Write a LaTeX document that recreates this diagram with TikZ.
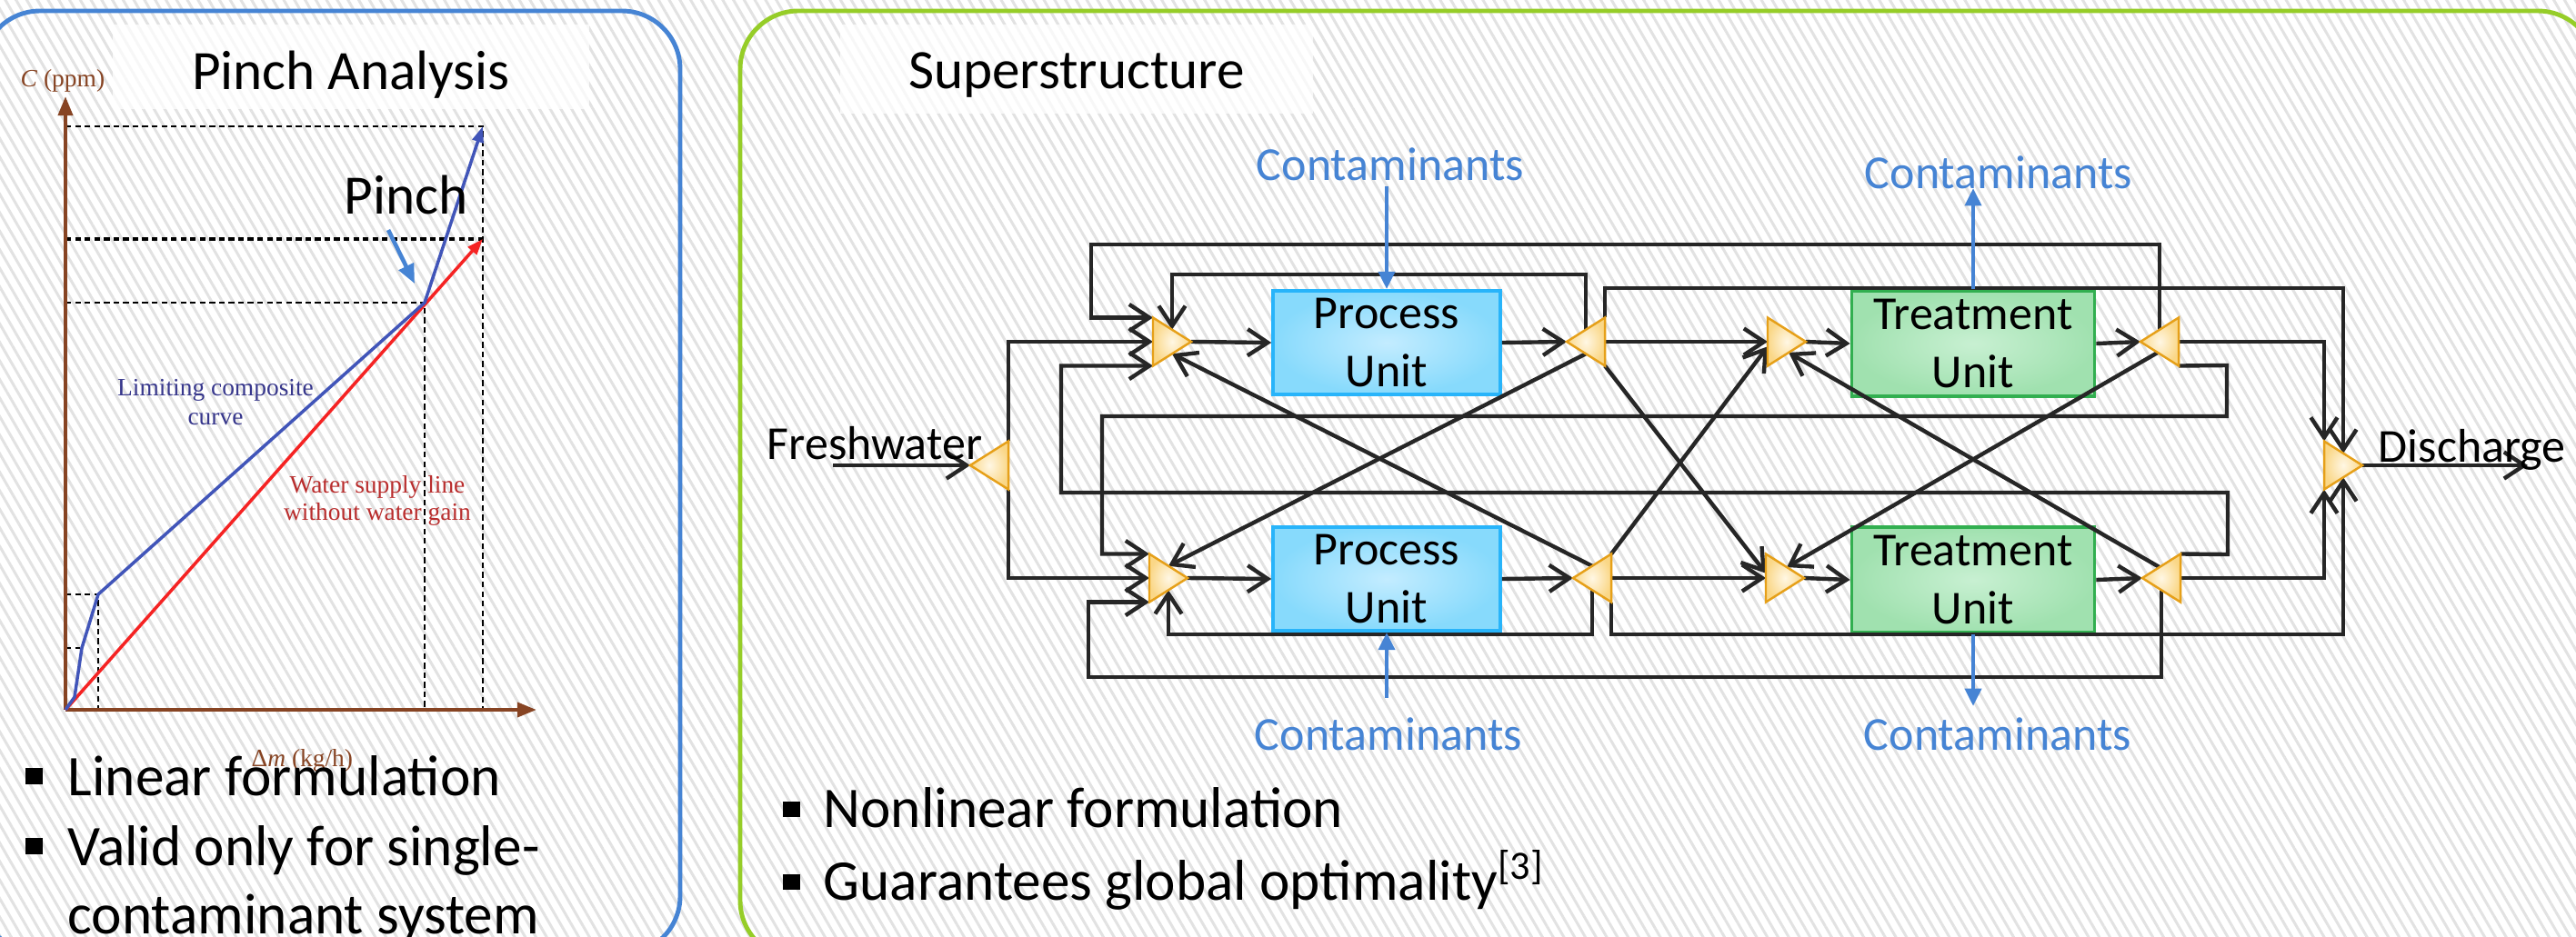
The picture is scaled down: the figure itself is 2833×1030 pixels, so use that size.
\documentclass[tikz,border=0pt]{standalone}
\usepackage{fontspec}
\setmainfont{Carlito}
\newfontfamily\timesf{Liberation Serif}
\usetikzlibrary{arrows.meta,calc,patterns.meta}

\definecolor{lineC}{RGB}{38,38,38}
\definecolor{blueC}{RGB}{70,132,212}
\definecolor{greenB}{RGB}{150,205,40}
\definecolor{brownC}{RGB}{135,68,35}
\definecolor{curveB}{RGB}{65,85,185}
\definecolor{curveR}{RGB}{245,35,35}
\definecolor{txtB}{RGB}{55,55,140}
\definecolor{txtR}{RGB}{185,45,45}
\definecolor{pFillI}{RGB}{195,236,255}
\definecolor{pFillO}{RGB}{135,218,252}
\definecolor{pDraw}{RGB}{40,180,250}
\definecolor{tFillI}{RGB}{200,240,210}
\definecolor{tFillO}{RGB}{160,225,175}
\definecolor{tDraw}{RGB}{50,175,80}
\definecolor{triI}{RGB}{255,247,228}
\definecolor{triO}{RGB}{250,215,135}
\definecolor{triD}{RGB}{230,160,25}
\definecolor{hatchC}{RGB}{226,226,226}

\begin{document}
\begin{tikzpicture}[x=0.01cm,y=-0.01cm,
  flow/.style={draw=lineC, line width=1.25pt, -{Straight Barb[length=6.3pt,width=8.3pt]}},
  cflow/.style={draw=blueC, line width=1.4pt, -{Triangle[length=5.5pt,width=5pt]}},
  trinode/.style={minimum width=0.42cm, minimum height=0.53cm, inner sep=0pt, outer sep=0pt},
  tri/.style={draw=triD, line width=0.7pt, inner color=triI, outer color=triO},
  pbox/.style={draw=pDraw, line width=1pt, inner color=pFillI, outer color=pFillO, minimum width=2.5cm, minimum height=1.14cm, align=center, inner sep=0pt, font=\fontsize{14.8}{18.2}\selectfont},
  tbox/.style={pbox, draw=tDraw, inner color=tFillI, outer color=tFillO, minimum width=2.67cm, minimum height=1.16cm},
  lbl/.style={font=\fontsize{14.8}{18.2}\selectfont, inner sep=0pt},
  clbl/.style={lbl, text=blueC, anchor=base},
  ttl/.style={font=\fontsize{17.4}{20}\selectfont, inner sep=0pt},
  bul/.style={font=\fontsize{18}{21}\selectfont, inner sep=0pt, anchor=base west},
  chartl/.style={font=\timesf\fontsize{7.8}{9.1}\selectfont, inner sep=0pt, anchor=base},
  dsh/.style={draw=black, line width=0.7pt, dash pattern=on 1.8pt off 1.2pt},
  axis/.style={draw=brownC, line width=1.2pt, -{Triangle[length=6pt,width=4.5pt]}},
]
\useasboundingbox (0,0) rectangle (2833,1030);
\begin{scope}
\clip (0,0) rectangle (2833,1030);
\fill[white] (0,0) rectangle (2833,1030);
\fill[pattern={Lines[angle=-60,distance=2.9pt,line width=0.85pt]}, pattern color=hatchC] (0,0) rectangle (2833,1030);

% title backdrops
\fill[white, opacity=0.75] (124,27) rectangle (648,120);
\fill[white, opacity=0.75] (924,27) rectangle (1444,125);

% panels
\draw[blueC, line width=1.4pt, rounded corners=0.64cm] (-20,12) rectangle (748,1050);
\draw[greenB, line width=1.4pt, rounded corners=0.64cm] (814,12) rectangle (2855,1055);

% titles
\node[ttl, anchor=base] (tPinch) at (386,98) {Pinch Analysis};
\node[ttl, anchor=base] (tSup) at (1184,97) {Superstructure};

% ---------------- pinch chart ----------------
\draw[dsh] (72,139) -- (531,139) -- (531,781);
\draw[dsh, line width=1.1pt] (72,263) -- (531,263);
\draw[dsh] (72,333) -- (467,333) -- (467,781);
\draw[dsh] (72,654) -- (108,654) -- (108,781);
\draw[dsh] (72,713) -- (88,713);
\draw[axis] (72,781) -- (72,106);
\draw[axis] (72,781) -- (590,781);
\draw[curveR, line width=1pt, -{Triangle[length=5pt,width=3.5pt]}] (72,781) -- (531,263);
\draw[curveB, line width=1pt, -{Triangle[length=5pt,width=3.5pt]}] (72,781) -- (82,767) -- (90,713) -- (108,654) -- (467,333) -- (531,139);
\coordinate (pinA) at (427,253);
\coordinate (pinB) at (456,312);
\draw[blueC, line width=1.3pt, -{Triangle[length=6pt,width=5pt]}] (pinA) -- (pinB);
\node[ttl, anchor=base west] (lPinch) at (378,235) {Pinch};

\node[chartl, text=brownC, anchor=base west] (lC) at (22,95) {\textit{C} (ppm)};
\node[chartl, text=brownC, anchor=base west] (lM) at (276,843) {Δ\textit{m} (kg/h)};
\node[chartl, text=txtB] (lLim1) at (237,435) {Limiting composite};
\node[chartl, text=txtB] (lLim2) at (237,467) {curve};
\node[chartl, text=txtR] (lWs1) at (415,542) {Water supply line};
\node[chartl, text=txtR] (lWs2) at (415,572) {without water gain};

% left bullets
\fill (28,845) rectangle (47,863);
\node[bul] (bl1) at (74,875) {Linear formulation};
\fill (28,922) rectangle (47,940);
\node[bul] (bl2) at (74,952) {Valid only for single-};
\node[bul] (bl3) at (74,1027) {contaminant system};

% right bullets
\fill (861,882) rectangle (880,899);
\node[bul] (br1) at (905,910) {Nonlinear formulation};
\fill (861,962) rectangle (880,979);
\node[bul] (br2) at (905,990) {Guarantees global optimality\textsuperscript{[3]}};

% ---------------- superstructure ----------------
\node[pbox] (PU1) at (1525,377) {Process\\Unit};
\node[pbox] (PU2) at (1525,637) {Process\\Unit};
\node[tbox] (TU1) at (2170,378) {Treatment\\Unit};
\node[tbox] (TU2) at (2170,638) {Treatment\\Unit};

\foreach \n/\x/\y in {MP1/1289/376, MP2/1285/636, MT1/1965/376, MT2/1963/636, DM/2577/512,
                      SP1/1744/376, SP2/1751/636, ST1/2375/376, ST2/2377/636, FS/1088/512}
  {\node[trinode] (\n) at (\x,\y) {};}

\foreach \n in {MP1,MP2,MT1,MT2,DM}{
  \coordinate (\n-tm) at ($(\n.north west)!0.5!(\n.east)$);
  \coordinate (\n-bm) at ($(\n.south west)!0.5!(\n.east)$);
}
\foreach \n in {SP1,SP2,ST1,ST2,FS}{
  \coordinate (\n-tm) at ($(\n.west)!0.5!(\n.north east)$);
  \coordinate (\n-bm) at ($(\n.west)!0.5!(\n.south east)$);
}
\coordinate (MT2-l) at ($(MT2.north west)!0.4!(MT2.south west)$);
\coordinate (MT1-l) at ($(MT1.north west)!0.6!(MT1.south west)$);
\coordinate (ST1-d) at ($(ST1.west)!0.45!(ST1.south east)$);
\coordinate (ST2-d) at ($(ST2.west)!0.45!(ST2.north east)$);
\coordinate (MT2-t) at ($(MT2.north west)!0.55!(MT2.east)$);
\coordinate (MT1-b) at ($(MT1.south west)!0.55!(MT1.east)$);
\coordinate (fwin) at (916,512);
\coordinate (dout) at (2780,512);

% main flows
\draw[flow] (fwin) -- (FS.west);
\draw[flow] (FS.north east) |- (MP1.west);
\draw[flow] (FS.south east) |- (MP2.west);
\draw[flow] (MP1.east) -- (PU1.west);
\draw[flow] (PU1.east) -- (SP1.west);
\draw[flow] (MP2.east) -- (PU2.west);
\draw[flow] (PU2.east) -- (SP2.west);
\draw[flow] (SP1.east) -- (MT1.west);
\draw[flow] (SP2.east) -- (MT2.west);
\draw[flow] (MT1.east) -- (TU1.west);
\draw[flow] (MT2.east) -- (TU2.west);
\draw[flow] (TU1.east) -- (ST1.west);
\draw[flow] (TU2.east) -- (ST2.west);
\draw[flow] (DM.east) -- (dout);
\draw[flow] (ST1.east) -| (DM.north west);
\draw[flow] (ST2.east) -| (DM.south west);
\draw[flow] (SP1.north east) -- (SP1.north east |- 0,317) -| (DM-tm);
\draw[flow] (SP2.south east) -- (SP2.south east |- 0,698) -| (DM-bm);

% recycles and loops
\draw[flow] (ST1-tm) |- (1200,269) |- (MP1.north west);
\draw[flow] (SP1-tm) -- (SP1-tm |- 0,302) -| (MP1-tm);
\draw[flow] (SP2-bm) -- (SP2-bm |- 0,698) -| (MP2-bm);
\draw[flow] (ST1.south east) -- (2449,402) |- (1212,458) |- (MP2.north west);
\draw[flow] (ST2.north east) -- (2450,610) |- (1167,542) |- (MP1.south west);
\draw[flow] (ST2-bm) |- (1197,745) |- (MP2.south west);

% diagonals
\draw[flow] (SP1-bm) -- (MP2-tm);
\draw[flow] (SP2-tm) -- (MP1-bm);
\draw[flow] (SP1.south east) -- (MT2-l);
\draw[flow] (SP2.north east) -- (MT1-l);
\draw[flow] (ST1-d) -- (MT2-t);
\draw[flow] (ST2-d) -- (MT1-b);

% triangles
\foreach \n in {MP1,MP2,MT1,MT2,DM}
  {\path[tri] (\n.north west) -- (\n.east) -- (\n.south west) -- cycle;}
\foreach \n in {SP1,SP2,ST1,ST2,FS}
  {\path[tri] (\n.north east) -- (\n.west) -- (\n.south east) -- cycle;}

% contaminants
\coordinate (cA) at (1525,205);
\coordinate (cB) at (2170,207);
\coordinate (cC) at (1525,768);
\coordinate (cD) at (2170,777);
\draw[cflow] (cA) -- (PU1.north);
\draw[cflow] (TU1.north) -- (cB);
\draw[cflow] (cC) -- (PU2.south);
\draw[cflow] (TU2.south) -- (cD);
\node[clbl] (lcA) at (1529,198) {Contaminants};
\node[clbl] (lcB) at (2198,207) {Contaminants};
\node[clbl] (lcC) at (1527,825) {Contaminants};
\node[clbl] (lcD) at (2197,825) {Contaminants};

\node[lbl, anchor=base west] (lFW) at (843,505) {Freshwater};
\node[lbl, anchor=base west] (lDC) at (2615,508) {Discharge};
\end{scope}
\end{tikzpicture}
\end{document}
